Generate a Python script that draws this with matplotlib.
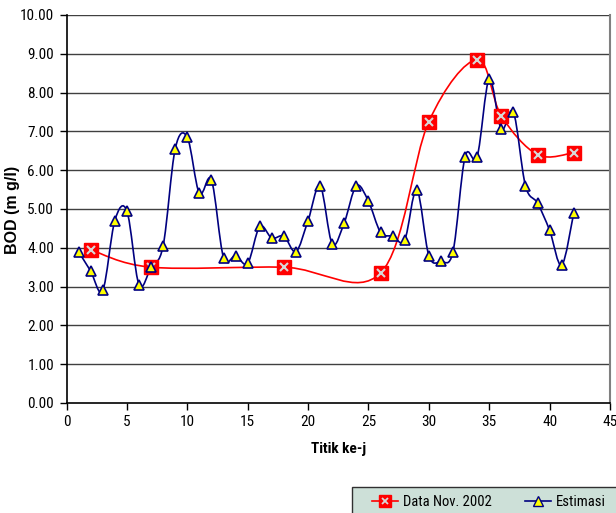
import numpy as np
import matplotlib
matplotlib.use("Agg")
import matplotlib.pyplot as plt
from matplotlib.path import Path
from matplotlib.patches import PathPatch, Rectangle
from matplotlib.lines import Line2D

plt.rcParams['font.family'] = ['Roboto Condensed', 'Liberation Sans', 'DejaVu Sans']

# Data
est_x = list(range(1, 43))
est_y = [3.90, 3.40, 2.90, 4.70, 4.95, 3.05, 3.50, 4.05, 6.55, 6.85,
         5.40, 5.75, 3.75, 3.80, 3.60, 4.55, 4.25, 4.30, 3.90, 4.70,
         5.60, 4.10, 4.65, 5.60, 5.20, 4.40, 4.30, 4.20, 5.50, 3.80,
         3.65, 3.90, 6.35, 6.35, 8.35, 7.05, 7.50, 5.60, 5.15, 4.45,
         3.55, 4.90]
obs_x = [2, 7, 18, 26, 30, 34, 36, 39, 42]
obs_y = [3.95, 3.50, 3.50, 3.35, 7.25, 8.85, 7.40, 6.40, 6.45]

x_ticks = list(range(0, 50, 5))
y_ticks = [i * 1.0 for i in range(0, 11)]


def smooth_path(xs, ys):
    p = np.column_stack([xs, ys]).astype(float)
    n = len(p)
    verts = [p[0]]
    codes = [Path.MOVETO]
    for i in range(n - 1):
        p0 = p[i - 1] if i > 0 else p[i]
        p1 = p[i]
        p2 = p[i + 1]
        p3 = p[i + 2] if i + 2 < n else p[i + 1]
        c1 = p1 + (p2 - p0) / 6.0
        c2 = p2 - (p3 - p1) / 6.0
        verts += [c1, c2, p2]
        codes += [Path.CURVE4] * 3
    return Path(verts, codes)


W, H = 616, 513
fig = plt.figure(figsize=(W / 100, H / 100), dpi=100)
ax = fig.add_axes([66.5 / W, 1 - 403 / H, (610 - 66.5) / W, 388 / H])

ax.set_xlim(0, 45)
ax.set_ylim(0, 10)
ax.set_yticks(y_ticks)
ax.set_yticklabels([f"{v:.2f}" for v in y_ticks])
ax.set_xticks(x_ticks)
ax.set_xticklabels([str(v) for v in x_ticks])
ax.tick_params(axis='both', direction='out', length=5, width=1, labelsize=11, color='black', pad=4)

for v in y_ticks[1:]:
    ax.axhline(v, color='#404040', lw=1.0, zorder=1)

ax.spines['top'].set_visible(False)
ax.spines['right'].set_color('#808080')
ax.spines['right'].set_linewidth(1.5)
for s in ['left', 'bottom']:
    ax.spines[s].set_color('black')
    ax.spines[s].set_linewidth(1.2)

# smoothed lines
ax.add_patch(PathPatch(smooth_path(obs_x, obs_y), facecolor='none', edgecolor='#ff0000', lw=1.2, zorder=3))
ax.add_patch(PathPatch(smooth_path(est_x, est_y), facecolor='none', edgecolor='#000080', lw=1.2, zorder=4))

ax.plot(obs_x, obs_y, linestyle='none', marker='s', ms=10, mfc='#ff0000', mec='#ff0000', zorder=5)
ax.plot(obs_x, obs_y, linestyle='none', marker='x', ms=6, mew=1.5, color='#d8d8d8', zorder=6)
ax.plot(est_x, est_y, linestyle='none', marker='^', ms=7.5, mfc='#ffff00', mec='#000080', mew=1.2, zorder=7)

ax.set_xlabel('Titik ke-j', fontsize=11, fontweight='bold', labelpad=9)
fig.text(13 / W, 1 - 210 / H, 'BOD (m g/l)', rotation=90, ha='center', va='center',
         fontsize=11.5, fontweight='bold', family=['Liberation Sans', 'DejaVu Sans'])

# legend box
fig.patches.append(Rectangle((352 / W, -0.01), (W + 5 - 352) / W, (26 / H) + 0.01,
                             transform=fig.transFigure, facecolor='#cde0d8',
                             edgecolor='#303030', lw=1.0, zorder=0))

h_red = (Line2D([], [], color='#ff0000', lw=1.2, marker='s', ms=9, mfc='#ff0000', mec='#ff0000'),
         Line2D([], [], linestyle='none', marker='x', ms=5, mew=1.3, color='#d8d8d8'))
h_blue = Line2D([], [], color='#000080', lw=1.2, marker='^', ms=7, mfc='#ffff00', mec='#000080')
fs = 10.5
leg = fig.legend([h_red, h_blue], ['Data Nov. 2002', 'Estimasi'], ncol=2,
                 loc='center left', bbox_to_anchor=(372 / W, 1 - 502 / H), fontsize=fs,
                 frameon=False, handlelength=1.8, handletextpad=0.3, columnspacing=2.3,
                 borderpad=0, borderaxespad=0)

fig.savefig('out.png', dpi=100)
